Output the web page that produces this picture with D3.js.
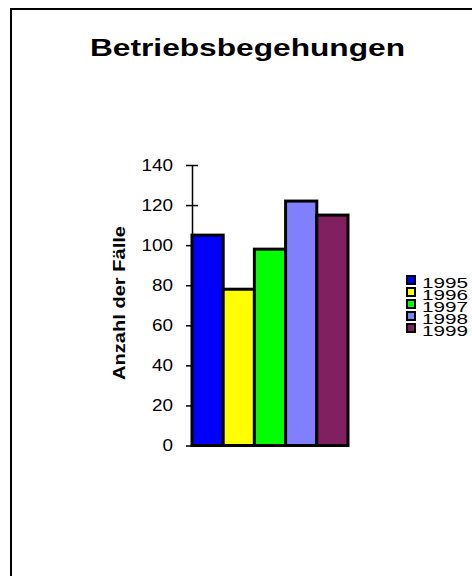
<!DOCTYPE html>
<html>
<head>
<meta charset="utf-8">
<script src="https://cdn.jsdelivr.net/npm/d3@7"></script>
<style>
  body { margin: 0; background: #fff; }
  text { font-family: "Liberation Sans", Arial, sans-serif; fill: #000; }
</style>
</head>
<body>
<div id="chart"></div>
<script>
const years = ["1995", "1996", "1997", "1998", "1999"];
const cases = [105, 78, 98, 122, 115];
const colors = ["#0000ff", "#ffff00", "#00ff00", "#8080ff", "#802060"];
const yTicks = [0, 20, 40, 60, 80, 100, 120, 140];

const W = 472, H = 576;

const svg = d3.select("#chart")
  .append("svg")
  .attr("width", W)
  .attr("height", H);

// outer frame (runs off the right and bottom edge)
svg.append("rect")
  .attr("x", 11).attr("y", 9)
  .attr("width", 500).attr("height", 600)
  .attr("fill", "none")
  .attr("stroke", "#000")
  .attr("stroke-width", 2);

// title, glyphs stretched sideways like the original
svg.append("text")
  .attr("x", 90).attr("y", 56)
  .attr("font-size", 23)
  .attr("font-weight", "bold")
  .attr("textLength", 315)
  .attr("lengthAdjust", "spacingAndGlyphs")
  .text("Betriebsbegehungen");

var x = d3.scaleBand()
  .domain(years)
  .range([192, 348])
  .padding(0);

var y = d3.scaleLinear()
  .domain([0, 140])
  .range([445.5, 165]);

// y axis with crossing ticks
var yAxis = svg.append("g")
  .attr("transform", "translate(192,0)")
  .call(d3.axisLeft(y).tickValues(yTicks).tickSize(6).tickSizeOuter(0).tickPadding(13));
yAxis.select(".domain").attr("stroke-width", 1.5);
yAxis.selectAll(".tick line").attr("x1", 6).attr("stroke-width", 1.5);
yAxis.selectAll(".tick text")
  .attr("font-size", 16)
  .attr("font-family", "Liberation Sans, Arial, sans-serif")
  .each(function() {
    let w = this.getComputedTextLength();
    d3.select(this).attr("textLength", w * 1.18).attr("lengthAdjust", "spacingAndGlyphs");
  });

svg.append("text")
  .attr("transform", "translate(125,303) rotate(-90)")
  .attr("text-anchor", "middle")
  .attr("font-size", 16)
  .attr("font-weight", "bold")
  .attr("textLength", 154)
  .attr("lengthAdjust", "spacingAndGlyphs")
  .text("Anzahl der Fälle");

// bars
svg.append("g")
  .selectAll("rect")
  .data(years)
  .enter()
  .append("rect")
  .attr("x", d => x(d))
  .attr("y", (d, i) => y(cases[i]))
  .attr("width", x.bandwidth())
  .attr("height", (d, i) => y(0) - y(cases[i]))
  .attr("fill", (d, i) => colors[i])
  .attr("stroke", "#000")
  .attr("stroke-width", 3);

// legend
var legend = svg.append("g")
  .selectAll("g")
  .data(years)
  .enter()
  .append("g")
  .attr("transform", (d, i) => "translate(0," + (i * 12) + ")");

legend.append("rect")
  .attr("x", 407).attr("y", 276)
  .attr("width", 8).attr("height", 8)
  .attr("fill", (d, i) => colors[i])
  .attr("stroke", "#000")
  .attr("stroke-width", 2);

legend.append("text")
  .attr("x", 422).attr("y", 288)
  .attr("font-size", 15)
  .attr("textLength", 46)
  .attr("lengthAdjust", "spacingAndGlyphs")
  .text(d => d);
</script>
</body>
</html>
